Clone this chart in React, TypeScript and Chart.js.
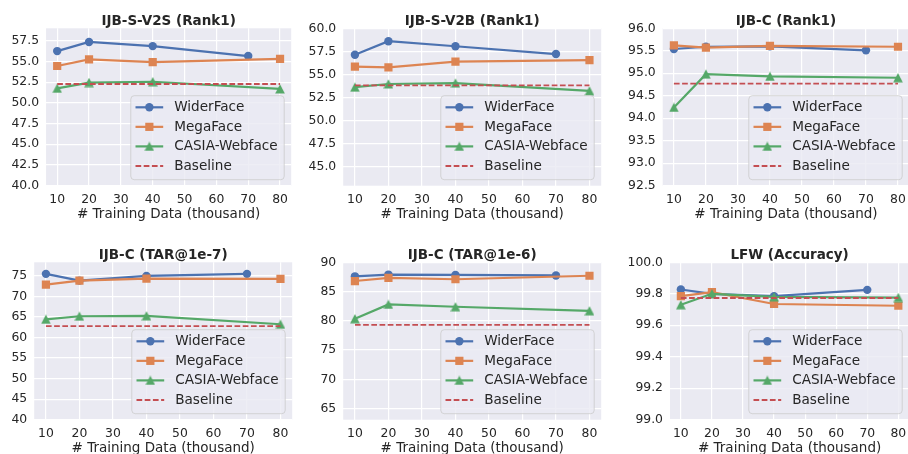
import React, { useEffect, useRef } from "react";
import { Chart, registerables } from "chart.js";

Chart.register(...registerables);

// ---------------- data ----------------
const seriesNames = ["WiderFace", "MegaFace", "CASIA-Webface", "Baseline"];
const widerX = [10, 20, 40, 70];
const otherX = [10, 20, 40, 80];
const baselineX = [10, 80];
const xTicks = [10, 20, 30, 40, 50, 60, 70, 80];
const xLabel = "# Training Data (thousand)";

const titles = [
  "IJB-S-V2S (Rank1)",
  "IJB-S-V2B (Rank1)",
  "IJB-C (Rank1)",
  "IJB-C (TAR@1e-7)",
  "IJB-C (TAR@1e-6)",
  "LFW (Accuracy)",
];

// IJB-S-V2S (Rank1)
const v2sWider = [56.25, 57.35, 56.85, 55.65];
const v2sMega = [54.45, 55.25, 54.92, 55.3];
const v2sCasia = [51.75, 52.45, 52.55, 51.68];
const v2sBase = 52.28;
const v2sYTicks = [40, 42.5, 45, 47.5, 50, 52.5, 55, 57.5];

// IJB-S-V2B (Rank1)
const v2bWider = [57.13, 58.6, 58.05, 57.2];
const v2bMega = [55.83, 55.76, 56.37, 56.55];
const v2bCasia = [53.6, 53.95, 54.05, 53.2];
const v2bBase = 53.8;
const v2bYTicks = [45, 47.5, 50, 52.5, 55, 57.5, 60];

// IJB-C (Rank1)
const cRankWider = [95.54, 95.59, 95.6, 95.51];
const cRankMega = [95.62, 95.57, 95.61, 95.59];
const cRankCasia = [94.24, 94.98, 94.93, 94.9];
const cRankBase = 94.77;
const cRankYTicks = [92.5, 93, 93.5, 94, 94.5, 95, 95.5, 96];

// IJB-C (TAR@1e-7)
const tar7Wider = [75.45, 73.8, 74.95, 75.45];
const tar7Mega = [72.85, 73.8, 74.3, 74.25];
const tar7Casia = [64.4, 65.15, 65.25, 63.2];
const tar7Base = 62.75;
const tar7YTicks = [40, 45, 50, 55, 60, 65, 70, 75];

// IJB-C (TAR@1e-6)
const tar6Wider = [87.6, 87.9, 87.85, 87.75];
const tar6Mega = [86.8, 87.35, 87.1, 87.7];
const tar6Casia = [80.35, 82.8, 82.4, 81.7];
const tar6Base = 79.3;
const tar6YTicks = [65, 70, 75, 80, 85, 90];

// LFW (Accuracy)
const lfwWider = [99.827, 99.8, 99.785, 99.825];
const lfwMega = [99.785, 99.81, 99.735, 99.724];
const lfwCasia = [99.73, 99.8, 99.78, 99.776];
const lfwBase = 99.773;
const lfwYTicks = [99.0, 99.2, 99.4, 99.6, 99.8, 100.0];

const yMins = [40, 42.9, 92.5, 40, 63.1, 99.0];
const yMaxs = [59.0, 60.0, 96.0, 78.26, 90.0, 100.0];
const yDecimals = [1, 1, 1, 0, 0, 1];

// ---------------- styles / layout ----------------
const COLORS = ["#4C72B0", "#DD8452", "#55A868", "#C44E52"];
const FONT = "'DejaVu Sans', sans-serif";
const TEXT = "#262626";
const BG = "#EAEAF2";
const X_MIN = 6.5;
const X_MAX = 83.5;

const TOP_SPACE = 28.3;
const BOTTOM_SPACE = 41.3;
// plot rectangles in page px: [left, right, top, bottom]
const plotRects = [
  [46.05, 293.6, 28.3, 185.7],
  [343.2, 603.6, 28.3, 185.7],
  [662.7, 911.3, 28.3, 185.7],
  [34.2, 294.1, 262.3, 419.7],
  [343.2, 603.3, 262.3, 419.7],
  [670.0, 911.7, 262.3, 419.7],
];
const colLefts = [0, 300, 606, 0, 300, 606];

const LEG = {
  w: 153.4,
  h: 84,
  rightGap: 7,
  bottomGap: 6,
  row0: 11.6,
  rowStep: 19.55,
  line0: 4.7,
  line1: 32.4,
  textX: 43.4,
  font: 13.6,
};

// matplotlib-like "^" marker (centered on its bounding box)
function makeTriangle(color: string, size: number) {
  const c = document.createElement("canvas");
  c.width = size;
  c.height = size;
  const g = c.getContext("2d") as CanvasRenderingContext2D;
  g.fillStyle = color;
  g.beginPath();
  g.moveTo(size / 2, 0.2);
  g.lineTo(size - 0.2, size - 0.4);
  g.lineTo(0.2, size - 0.4);
  g.closePath();
  g.fill();
  return c;
}

function drawMarker(ctx: CanvasRenderingContext2D, style: any, x: number, y: number, r: number) {
  if (style && typeof style === "object") {
    ctx.drawImage(style, x - style.width / 2, y - style.height / 2, style.width, style.height);
    return;
  }
  ctx.beginPath();
  if (style === "circle") {
    ctx.arc(x, y, r, 0, Math.PI * 2);
  } else if (style === "rect") {
    const s = Math.SQRT1_2 * r;
    ctx.rect(x - s, y - s, 2 * s, 2 * s);
  } else {
    return;
  }
  ctx.fill();
}

const bgPlugin = {
  id: "axesBg",
  beforeDraw(chart: any) {
    const { ctx, chartArea: a } = chart;
    ctx.save();
    ctx.fillStyle = BG;
    ctx.fillRect(a.left, a.top, a.right - a.left, a.bottom - a.top);
    ctx.restore();
  },
};

const titlePlugin = {
  id: "panelTitle",
  afterDraw(chart: any, _args: any, opts: any) {
    const { ctx, chartArea: a } = chart;
    ctx.save();
    ctx.font = `bold 13.5px ${FONT}`;
    ctx.fillStyle = TEXT;
    ctx.textAlign = "center";
    ctx.textBaseline = "alphabetic";
    ctx.fillText(opts.text, (a.left + a.right) / 2, a.top - 3.8);
    ctx.restore();
  },
};

const legendPlugin = {
  id: "boxLegend",
  afterDraw(chart: any) {
    const { ctx, chartArea: a } = chart;
    const ds = chart.data.datasets;
    const right = a.right - LEG.rightGap;
    const bottom = a.bottom - LEG.bottomGap;
    const left = right - LEG.w;
    const top = bottom - LEG.h;
    ctx.save();
    ctx.beginPath();
    const rr = 3.5;
    ctx.moveTo(left + rr, top);
    ctx.arcTo(right, top, right, bottom, rr);
    ctx.arcTo(right, bottom, left, bottom, rr);
    ctx.arcTo(left, bottom, left, top, rr);
    ctx.arcTo(left, top, right, top, rr);
    ctx.closePath();
    ctx.fillStyle = "rgba(234,234,242,0.8)";
    ctx.fill();
    ctx.strokeStyle = "rgba(204,204,204,0.8)";
    ctx.lineWidth = 1;
    ctx.stroke();
    ds.forEach((d: any, i: number) => {
      const y = top + LEG.row0 + LEG.rowStep * i;
      ctx.save();
      ctx.strokeStyle = d.borderColor;
      ctx.lineWidth = d.borderWidth;
      ctx.setLineDash(d.borderDash || []);
      ctx.beginPath();
      ctx.moveTo(left + LEG.line0, y);
      ctx.lineTo(left + LEG.line1, y);
      ctx.stroke();
      ctx.restore();
      ctx.fillStyle = d.backgroundColor;
      drawMarker(ctx, d.pointStyle, left + (LEG.line0 + LEG.line1) / 2, y, d.pointRadius);
      ctx.fillStyle = TEXT;
      ctx.font = `${LEG.font}px ${FONT}`;
      ctx.textAlign = "left";
      ctx.textBaseline = "middle";
      ctx.fillText(d.label, left + LEG.textX, y + 0.5);
    });
    ctx.restore();
  },
};

function PanelChart({ idx }: { idx: number }) {
  const ref = useRef<HTMLCanvasElement>(null);
  const [l, r, t, b] = plotRects[idx];
  const cLeft = colLefts[idx];
  const cTop = t - TOP_SPACE;
  const cWidth = Math.ceil(r + 3) - cLeft;
  const cHeight = Math.round(TOP_SPACE + (b - t) + BOTTOM_SPACE + 1);
  const padRight = cLeft + cWidth - r;
  const padBottom = cHeight - (TOP_SPACE + (b - t) + BOTTOM_SPACE);

  useEffect(() => {
    const series = [
      [widerX, [v2sWider, v2bWider, cRankWider, tar7Wider, tar6Wider, lfwWider][idx]],
      [otherX, [v2sMega, v2bMega, cRankMega, tar7Mega, tar6Mega, lfwMega][idx]],
      [otherX, [v2sCasia, v2bCasia, cRankCasia, tar7Casia, tar6Casia, lfwCasia][idx]],
    ];
    const base = [v2sBase, v2bBase, cRankBase, tar7Base, tar6Base, lfwBase][idx];
    const yTicks = [v2sYTicks, v2bYTicks, cRankYTicks, tar7YTicks, tar6YTicks, lfwYTicks][idx];
    const dec = yDecimals[idx];
    const pointStyles: any[] = ["circle", "rect", makeTriangle(COLORS[2], 10)];
    const pointRadii = [4.2, 5.8, 5];

    const datasets: any[] = series.map(([xs, ys]: any, i: number) => ({
      label: seriesNames[i],
      data: xs.map((x: number, k: number) => ({ x, y: ys[k] })),
      borderColor: COLORS[i],
      backgroundColor: COLORS[i],
      borderWidth: 2.2,
      pointStyle: pointStyles[i],
      pointRadius: pointRadii[i],
      pointBorderWidth: 0,
      tension: 0,
      order: 4 - i,
    }));
    datasets.push({
      label: seriesNames[3],
      data: baselineX.map((x) => ({ x, y: base })),
      borderColor: COLORS[3],
      backgroundColor: COLORS[3],
      borderWidth: 1.9,
      borderDash: [5.7, 2.5],
      pointStyle: false,
      pointRadius: 0,
      tension: 0,
      order: 1,
    });

    const tickFont = { family: FONT, size: 12.4 };
    const chart = new Chart(ref.current as HTMLCanvasElement, {
      type: "line",
      data: { datasets },
      options: {
        responsive: false,
        animation: false,
        events: [],
        layout: { padding: { top: TOP_SPACE, right: padRight, left: 0, bottom: padBottom } },
        plugins: {
          legend: { display: false },
          title: { display: false },
          tooltip: { enabled: false },
          panelTitle: { text: titles[idx] },
        } as any,
        scales: {
          x: {
            type: "linear",
            min: X_MIN,
            max: X_MAX,
            afterBuildTicks: (s: any) => {
              s.ticks = xTicks.map((v) => ({ value: v }));
            },
            afterFit: (s: any) => {
              s.height = BOTTOM_SPACE;
            },
            grid: { color: "#ffffff", lineWidth: 1.2, drawTicks: false },
            border: { display: false },
            ticks: {
              padding: 6.3,
              font: tickFont,
              color: TEXT,
              autoSkip: false,
              maxRotation: 0,
              callback: (v: any) => String(v),
            },
            title: {
              display: true,
              text: xLabel,
              color: TEXT,
              font: { family: FONT, size: 13.5 },
              padding: { top: 0, bottom: 4 },
            },
          },
          y: {
            type: "linear",
            min: yMins[idx],
            max: yMaxs[idx],
            afterBuildTicks: (s: any) => {
              s.ticks = yTicks.map((v) => ({ value: v }));
            },
            afterFit: (s: any) => {
              s.width = l - cLeft;
            },
            grid: { color: "#ffffff", lineWidth: 1.2, drawTicks: false },
            border: { display: false },
            ticks: {
              padding: 7,
              font: tickFont,
              color: TEXT,
              autoSkip: false,
              callback: (v: any) => Number(v).toFixed(dec),
            },
          },
        },
      } as any,
      plugins: [bgPlugin, titlePlugin, legendPlugin],
    });
    return () => chart.destroy();
  }, []);

  return (
    <canvas
      ref={ref}
      width={cWidth}
      height={cHeight}
      style={{ position: "absolute", left: cLeft, top: cTop, width: cWidth, height: cHeight }}
    />
  );
}

export default function App() {
  return (
    <div
      style={{
        position: "absolute",
        left: 0,
        top: 0,
        width: 908,
        height: 454,
        overflow: "hidden",
        background: "#ffffff",
      }}
    >
      {[0, 1, 2, 3, 4, 5].map((i) => (
        <PanelChart key={i} idx={i} />
      ))}
    </div>
  );
}
